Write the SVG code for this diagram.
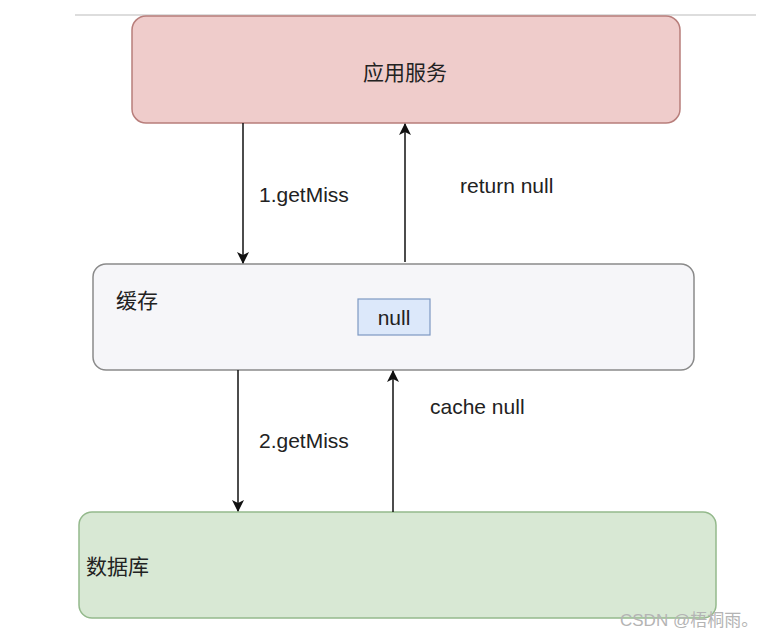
<svg xmlns="http://www.w3.org/2000/svg" width="774" height="638" viewBox="0 0 774 638">
<defs>
<style>
.lbl{font-family:"Liberation Sans","Noto Sans CJK SC",sans-serif;font-size:21px;fill:#222}
.cn{font-family:"Noto Sans CJK SC","Liberation Sans",sans-serif;font-size:21px;fill:#222}
.conn{stroke:#111;stroke-width:1.5;fill:none}
</style>
<marker id="ah2" viewBox="0 0 12 12" refX="11" refY="6" markerWidth="12" markerHeight="12" markerUnits="userSpaceOnUse" orient="auto"><path d="M0,0 L12,6 L0,12 L3,6 Z" fill="#111"/></marker>
</defs>
<rect width="774" height="638" fill="#ffffff"/>
<line x1="75" y1="15" x2="756" y2="15" stroke="#dddddd" stroke-width="2"/>
<g id="app">
<rect x="132" y="16" width="548" height="107" rx="14" fill="#efcccb" stroke="#b87e7b" stroke-width="1.5"/>
<text class="cn" x="405" y="80" text-anchor="middle">应用服务</text>
</g>
<g id="cache">
<rect x="93" y="264" width="601" height="106" rx="13" fill="#f6f6f9" stroke="#8a8a8a" stroke-width="1.5"/>
<text class="cn" x="116" y="308">缓存</text>
</g>
<g id="nullbox">
<rect x="358" y="299" width="72" height="36" fill="#dce8fa" stroke="#7d98c2" stroke-width="1.2"/>
<text class="lbl" x="394" y="325" text-anchor="middle" font-size="19">null</text>
</g>
<g id="db">
<rect x="79" y="512" width="637" height="106" rx="13" fill="#d8e8d4" stroke="#94b98c" stroke-width="1.5"/>
<text class="cn" x="86" y="574">数据库</text>
</g>
<g id="connectors">
<line class="conn" x1="243" y1="123" x2="243" y2="263" marker-end="url(#ah2)"/>
<line class="conn" x1="405" y1="262" x2="405" y2="124" marker-end="url(#ah2)"/>
<line class="conn" x1="238" y1="370" x2="238" y2="511" marker-end="url(#ah2)"/>
<line class="conn" x1="393" y1="512" x2="393" y2="371" marker-end="url(#ah2)"/>
<text class="lbl" x="259" y="202">1.getMiss</text>
<text class="lbl" x="460" y="193">return null</text>
<text class="lbl" x="259" y="448">2.getMiss</text>
<text class="lbl" x="430" y="414">cache null</text>
</g>
<text x="620" y="626" font-family="Liberation Sans,'Noto Sans CJK SC',sans-serif" font-size="17" fill="#b4b4b4">CSDN @梧桐雨。</text>
</svg>
